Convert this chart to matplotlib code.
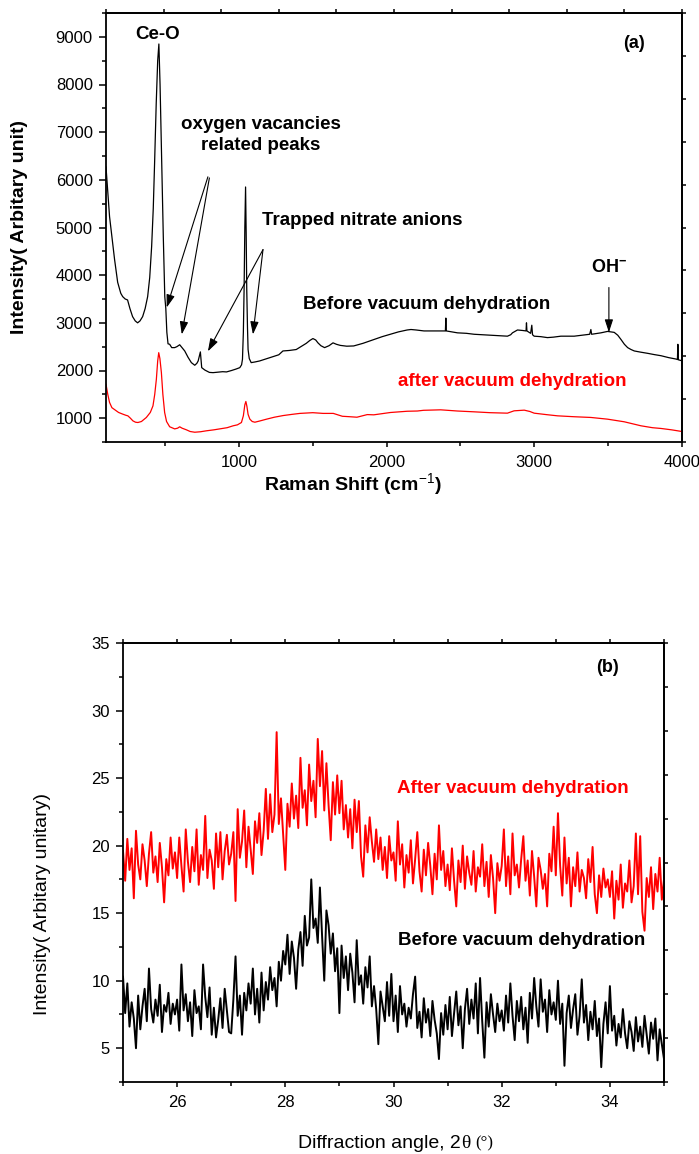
import matplotlib
matplotlib.use("Agg")
import matplotlib.pyplot as plt
from matplotlib.ticker import MultipleLocator
import numpy as np

plt.rcParams['font.family'] = ['Liberation Sans', 'DejaVu Sans']
plt.rcParams['mathtext.fontset'] = 'custom'
plt.rcParams['mathtext.rm'] = 'Liberation Sans'
plt.rcParams['mathtext.bf'] = 'Liberation Sans:bold'

# ---- (a) Raman spectra ----
raman_before_x = [100, 124, 158, 179, 200, 213, 230, 246, 262, 280, 298, 314, 330, 348, 365,
                  382, 396, 409, 420, 429, 440, 450, 458, 466, 477, 488, 498, 505, 512, 520,
                  531, 545, 565, 580, 599, 615, 633, 655, 678, 701, 715, 724, 732, 739, 744,
                  748, 769, 800, 825, 860, 890, 916, 950, 980, 1006, 1018, 1024, 1030, 1035,
                  1040, 1045, 1049, 1053, 1058, 1062, 1070, 1083, 1110, 1140, 1180, 1230, 1270,
                  1298, 1340, 1388, 1420, 1456, 1480, 1501, 1520, 1535, 1555, 1580, 1610, 1637,
                  1660, 1686, 1730, 1777, 1840, 1913, 1970, 2026, 2080, 2139, 2165, 2200, 2253,
                  2320, 2389, 2398, 2401, 2404, 2440, 2480, 2540, 2593, 2650, 2706, 2760, 2818,
                  2840, 2852, 2886, 2920, 2944, 2947, 2950, 2975, 2983, 2988, 2999, 3044, 3089,
                  3130, 3180, 3230, 3270, 3320, 3375, 3383, 3388, 3451, 3496, 3520, 3541, 3565,
                  3587, 3610, 3632, 3655, 3677, 3720, 3768, 3810, 3858, 3910, 3960, 3969, 3972,
                  3975, 3998]
raman_before_y = [6270, 5230, 4330, 3850, 3620, 3550, 3500, 3480, 3300, 3130, 3040, 3000, 3040,
                  3130, 3300, 3550, 3950, 4600, 5400, 6350, 7600, 8500, 8850, 8000, 6350, 4800,
                  3550, 3300, 2800, 2560, 2550, 2480, 2480, 2500, 2540, 2480, 2410, 2280, 2165,
                  2110, 2150, 2200, 2300, 2390, 2200, 2060, 2010, 1960, 1955, 1965, 1975, 1970,
                  2000, 2030, 2060, 2120, 2235, 2800, 3700, 5000, 5850, 4900, 3700, 2900, 2440,
                  2250, 2165, 2180, 2200, 2240, 2290, 2330, 2410, 2420, 2440, 2500, 2570, 2630,
                  2670, 2640, 2580, 2520, 2480, 2520, 2580, 2550, 2527, 2510, 2515, 2570, 2650,
                  2710, 2760, 2810, 2850, 2860, 2850, 2830, 2830, 2830, 2830, 3100, 2830, 2810,
                  2790, 2780, 2760, 2750, 2740, 2730, 2720, 2750, 2790, 2850, 2840, 2830, 3000,
                  2830, 2780, 2950, 2750, 2720, 2710, 2690, 2700, 2720, 2720, 2720, 2740, 2760,
                  2860, 2760, 2790, 2820, 2810, 2800, 2740, 2650, 2550, 2480, 2440, 2410, 2385,
                  2360, 2335, 2310, 2270, 2240, 2230, 2550, 2225, 2205]

raman_after_x = [100, 112, 124, 140, 158, 185, 214, 235, 248, 265, 282, 300, 316, 340, 373,
                 400, 418, 430, 441, 450, 457, 465, 475, 485, 497, 510, 531, 565, 585, 599,
                 615, 644, 670, 701, 740, 780, 830, 870, 920, 961, 990, 1017, 1030, 1040, 1047,
                 1054, 1062, 1074, 1090, 1108, 1140, 1187, 1240, 1300, 1360, 1413, 1500, 1570,
                 1639, 1700, 1752, 1799, 1869, 1913, 2026, 2139, 2208, 2250, 2366, 2480, 2593,
                 2700, 2818, 2863, 2932, 2970, 2999, 3080, 3157, 3270, 3383, 3496, 3609, 3722,
                 3800, 3858, 3930, 3998]
raman_after_y = [1711, 1500, 1330, 1220, 1180, 1120, 1084, 1060, 1049, 1000, 944, 915, 909, 930,
                 1014, 1120, 1258, 1500, 1816, 2200, 2374, 2250, 1955, 1500, 1119, 930, 820,
                 775, 790, 819, 790, 756, 720, 705, 715, 735, 755, 775, 800, 840, 860, 909,
                 1050, 1280, 1350, 1250, 1080, 979, 930, 915, 940, 979, 1020, 1055, 1080, 1100,
                 1115, 1100, 1100, 1040, 1030, 1020, 1075, 1070, 1119, 1145, 1150, 1165, 1175,
                 1150, 1133, 1115, 1105, 1154, 1168, 1140, 1105, 1075, 1049, 1030, 1015, 979,
                 924, 840, 800, 784, 755, 721]

# ---- (b) XRD patterns, 2theta from 25 to 35 deg (step 0.04) ----
two_theta = np.round(np.arange(25.0, 35.0001, 0.04), 2)

xrd_before = [
    10.3, 7.6, 9.8, 6.6, 8.4, 7.2, 5.0, 8.9, 6.4, 8.1, 9.4, 7.0, 10.9, 7.9, 6.9, 8.6, 7.4, 9.7, 6.2, 8.2, 7.7, 9.1, 6.8, 8.3, 7.5,
    8.6, 6.3, 11.2, 7.8, 9.0, 7.0, 8.4, 5.9, 9.3, 7.6, 8.1, 6.4, 11.2, 8.8, 7.3, 9.5, 6.0, 8.0, 5.8, 7.1, 8.7, 6.5, 9.4, 7.8, 6.2,
    6.1, 8.6, 11.8, 7.4, 8.9, 6.0, 9.1, 7.8, 9.8, 8.3, 10.9, 7.5, 9.4, 6.9, 10.6, 7.8, 9.9, 8.6, 11.0, 9.3, 10.2, 8.1, 11.4, 10.0, 12.2,
    11.2, 13.4, 10.5, 12.9, 11.7, 9.4, 12.3, 13.6, 11.1, 14.8, 12.6, 13.2, 17.5, 13.9, 14.6, 12.8, 16.9, 13.3, 10.0, 15.2, 14.1, 12.0, 13.5, 10.7, 12.4,
    7.6, 12.6, 10.2, 11.8, 9.3, 12.0, 10.6, 8.4, 13.0, 9.7, 10.4, 8.3, 11.0, 9.5, 11.8, 8.1, 9.6, 7.9, 5.3, 9.2, 8.1, 7.0, 9.9, 7.4, 10.5,
    7.0, 8.9, 6.2, 9.6, 7.5, 8.3, 6.6, 8.0, 7.2, 9.0, 10.3, 6.5, 7.7, 5.8, 8.7, 6.9, 7.9, 5.9, 8.5, 7.1, 6.1, 4.2, 7.6, 6.0, 8.2,
    6.4, 8.8, 5.9, 7.6, 9.2, 6.7, 8.1, 5.0, 7.9, 9.4, 6.8, 8.6, 7.2, 9.8, 6.1, 10.2, 7.0, 4.3, 8.4, 6.6, 9.0, 7.5, 6.2, 8.3, 7.0,
    7.8, 6.3, 8.9, 6.9, 9.8, 7.4, 5.6, 8.5, 7.0, 8.8, 6.4, 8.0, 5.4, 9.1, 7.2, 10.2, 8.1, 6.6, 10.1, 7.7, 8.6, 6.2, 9.3, 7.5, 8.4,
    7.1, 10.0, 6.8, 8.3, 3.7, 7.6, 8.9, 6.5, 7.9, 9.0, 6.0, 7.4, 10.1, 6.9, 8.2, 5.6, 7.7, 6.4, 8.5, 5.9, 7.2, 3.6, 6.8, 8.4, 6.1,
    9.6, 6.3, 7.4, 5.2, 6.8, 5.8, 7.9, 6.1, 5.0, 7.0, 6.2, 4.8, 7.3, 5.5, 6.6, 5.1, 7.4, 6.0, 4.6, 6.9, 5.7, 7.2, 4.1, 6.4, 5.3,
    4.2]

xrd_after = [
    19.6, 17.4, 20.5, 18.2, 19.8, 16.1, 21.1, 18.6, 17.5, 20.1, 18.9, 17.0, 19.4, 21.0, 18.0, 19.2, 17.3, 20.2, 18.4, 15.8, 19.0, 17.8, 20.6, 18.3, 19.5,
    17.6, 20.6, 18.5, 16.6, 21.2, 18.8, 17.3, 19.9, 18.1, 21.2, 17.1, 19.3, 18.2, 22.2, 17.6, 19.7, 18.9, 16.8, 20.9, 18.4, 21.0, 17.5, 19.6, 20.8, 18.6,
    19.4, 21.0, 15.9, 22.7, 19.1, 20.3, 22.6, 18.4, 21.4, 19.7, 17.9, 21.8, 20.2, 22.4, 19.3, 21.1, 24.2, 20.5, 23.8, 21.0, 22.3, 28.4, 21.6, 23.5, 20.9,
    18.2, 23.1, 21.4, 24.6, 22.0, 23.7, 21.3, 26.5, 22.8, 24.1, 21.5, 26.0, 23.3, 24.8, 22.1, 27.9, 24.4, 27.0, 22.6, 26.1, 23.0, 20.4, 24.7, 22.3, 25.2,
    22.4, 24.8, 21.2, 23.0, 20.6, 22.7, 19.8, 23.4, 21.0, 23.3, 19.2, 17.7, 21.5, 19.5, 22.1, 20.3, 18.8, 21.2, 19.0, 20.6, 18.2, 19.9, 17.6, 20.7, 18.9,
    19.5, 17.4, 21.8, 18.6, 20.1, 16.9, 19.3, 18.0, 20.4, 17.2, 19.0, 21.0, 18.1, 16.6, 19.7, 17.8, 20.2, 18.5, 16.4, 19.4, 17.5, 21.5, 18.2, 19.6, 17.0,
    18.6, 16.7, 19.8, 17.4, 15.5, 18.9, 17.3, 20.0, 16.8, 19.2, 18.0, 17.1, 19.6, 16.6, 18.4, 17.7, 20.1, 17.0, 18.8, 16.2, 19.3, 17.6, 15.0, 18.7, 17.4,
    18.5, 21.2, 17.0, 19.2, 16.4, 20.9, 17.8, 18.6, 16.9, 19.0, 20.7, 17.4, 18.9, 16.3, 19.6, 17.7, 15.5, 19.1, 18.2, 16.8, 17.9, 15.5, 19.4, 18.1, 21.4,
    17.8, 22.4, 18.5, 16.3, 20.6, 17.2, 19.1, 15.5, 18.4, 17.0, 19.5, 16.6, 18.2, 17.6, 16.1, 19.0, 17.3, 19.9, 16.4, 15.0, 17.8, 16.2, 18.3, 16.9, 17.5,
    16.2, 18.1, 14.6, 17.4, 16.0, 18.6, 15.4, 17.2, 16.6, 18.9, 15.8, 17.0, 20.9, 16.4, 20.7, 15.1, 13.7, 17.6, 16.2, 18.4, 15.3, 17.9, 16.6, 19.1, 16.0,
    17.5]

W, H = 699, 1154
fig = plt.figure(figsize=(W / 100, H / 100), dpi=100)


def px_axes(left, top, right, bottom):
    return fig.add_axes([left / W, 1 - bottom / H, (right - left) / W, (bottom - top) / H])


def style(ax):
    for s in ax.spines.values():
        s.set_linewidth(1.3)
    ax.tick_params(which='both', direction='out', width=1.1, labelsize=12, top=False, right=False)
    ax.tick_params(axis='y', which='major', length=5, pad=4.5)
    ax.tick_params(axis='y', which='minor', length=3)
    ax.tick_params(axis='x', which='major', length=3.5, pad=6)
    ax.tick_params(axis='x', which='minor', length=3)


def frame_ticks(ax, xlim, ylim):
    # Origin-style top/right axes: 10 equal divisions, no labels
    top = ax.secondary_xaxis('top')
    top.set_xticks(np.linspace(xlim[0], xlim[1], 11))
    top.tick_params(direction='out', length=3, width=1.1, labeltop=False)
    top.spines['top'].set_linewidth(1.3)
    right = ax.secondary_yaxis('right')
    right.set_yticks(np.linspace(ylim[0], ylim[1], 11))
    right.tick_params(direction='out', length=3, width=1.1, labelright=False)
    right.spines['right'].set_linewidth(1.3)


# ---------- panel (a) ----------
ax1 = px_axes(106, 13, 682, 442)
ax1.plot(raman_before_x, raman_before_y, color='black', lw=0.9)
ax1.plot(raman_after_x, raman_after_y, color='red', lw=0.9)
ax1.set_xlim(100, 4000)
ax1.set_ylim(500, 9500)
ax1.xaxis.set_major_locator(MultipleLocator(1000))
ax1.xaxis.set_minor_locator(MultipleLocator(500))
ax1.yaxis.set_major_locator(MultipleLocator(1000))
ax1.yaxis.set_minor_locator(MultipleLocator(500))
style(ax1)
frame_ticks(ax1, (100, 4000), (500, 9500))

bold = dict(fontsize=13.5, fontweight='bold')
ax1.text(450, 9044, 'Ce-O', ha='center', va='center', **bold)
ax1.text(1149, 6941, 'oxygen vacancies\nrelated peaks', ha='center', va='center',
         multialignment='center', linespacing=1.25, **bold)
ax1.text(1156, 5142, 'Trapped nitrate anions', ha='left', va='center', **bold)
ax1.text(1434, 3385, 'Before vacuum dehydration', ha='left', va='center', **bold)
ax1.text(2079, 1774, 'after vacuum dehydration', ha='left', va='center', color='red', **bold)
ax1.text(3674, 8866, '(a)', ha='center', va='center', fontsize=13, fontweight='bold')
ax1.text(3505, 4159, r'$\mathbf{OH^{-}}$', ha='center', va='center', fontsize=13)

arrow = dict(arrowstyle='-|>,head_length=0.55,head_width=0.18', color='black', lw=0.8,
             shrinkA=0, shrinkB=0, mutation_scale=14)
for tail, head in [((790, 6063), (511, 3322)), ((800, 6040), (613, 2757)),
                   ((1163, 4536), (790, 2402)), ((1163, 4536), (1095, 2757)),
                   ((3505, 3741), (3505, 2800))]:
    ax1.annotate('', xy=head, xytext=tail, arrowprops=arrow)

fig.text(353 / W, 1 - 485 / H, r'Raman Shift (cm$^{\mathrm{-1}}$)', ha='center', va='center',
         fontsize=14, fontweight='bold')
fig.text(20 / W, 1 - 227 / H, 'Intensity( Arbitary unit)', rotation=90, ha='center',
         va='center', fontsize=14, fontweight='bold')

# ---------- panel (b) ----------
ax2 = px_axes(123, 643, 664, 1082)
ax2.plot(two_theta, xrd_after, color='red', lw=1.4)
ax2.plot(two_theta, xrd_before, color='black', lw=1.4)
ax2.set_xlim(25, 35)
ax2.set_ylim(2.5, 35)
ax2.xaxis.set_major_locator(MultipleLocator(2))
ax2.xaxis.set_minor_locator(MultipleLocator(1))
ax2.yaxis.set_major_locator(MultipleLocator(5))
ax2.yaxis.set_minor_locator(MultipleLocator(2.5))
style(ax2)
frame_ticks(ax2, (25, 35), (2.5, 35))

ax2.text(33.96, 33.2, '(b)', ha='center', va='center', fontsize=13, fontweight='bold')
ax2.text(30.06, 24.26, 'After vacuum dehydration', ha='left', va='center', color='red', **bold)
ax2.text(30.08, 13.0, 'Before vacuum dehydration', ha='left', va='center', **bold)

# x label: sans text followed by serif theta and degree sign
lab1 = fig.text(298 / W, 1 - 1143 / H, 'Diffraction angle, 2', ha='left', va='center', fontsize=14)
fig.canvas.draw()
bb = lab1.get_window_extent()
fig.text(bb.x1 / W, 1 - 1143 / H, 'θ', ha='left', va='center', fontsize=14,
         family='Liberation Serif')
fig.text(bb.x1 / W + 0.021, 1 - 1143 / H, '(°)', ha='left', va='center', fontsize=12,
         family='Liberation Serif')
fig.text(43 / W, 1 - 904 / H, 'Intensity( Arbitary unitary)', rotation=90, ha='center',
         va='center', fontsize=14)

fig.savefig('out.png', dpi=100)
